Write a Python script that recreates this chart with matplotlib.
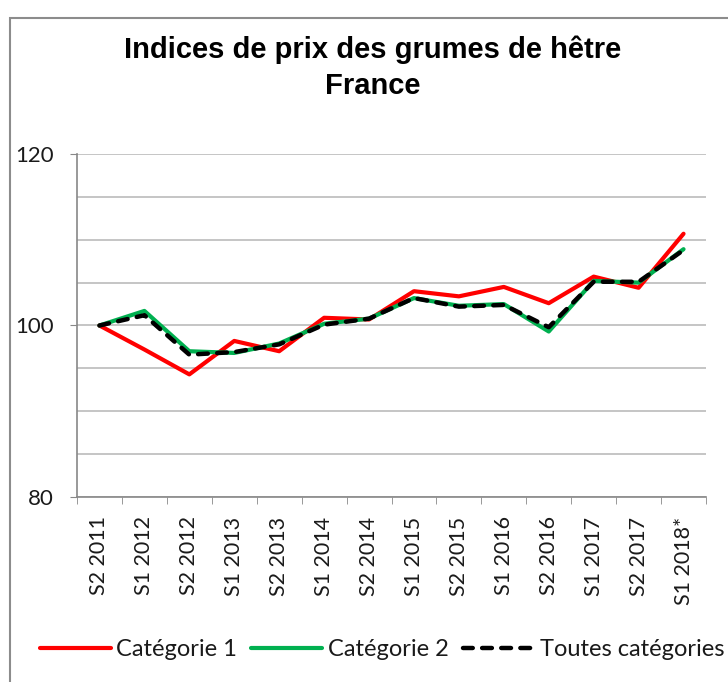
import matplotlib
matplotlib.use("Agg")
import matplotlib.pyplot as plt
from matplotlib.patches import Rectangle
from matplotlib.ticker import MultipleLocator, FixedLocator, FixedFormatter

categories = ["S2 2011", "S1 2012", "S2 2012", "S1 2013", "S2 2013", "S1 2014", "S2 2014",
              "S1 2015", "S2 2015", "S1 2016", "S2 2016", "S1 2017", "S2 2017", "S1 2018*"]
cat1 = [100.0, 97.2, 94.3, 98.2, 97.0, 100.9, 100.7, 104.0, 103.4, 104.5, 102.6, 105.7, 104.4, 110.7]
cat2 = [100.0, 101.7, 97.0, 96.8, 97.9, 100.2, 100.8, 103.2, 102.3, 102.5, 99.3, 105.2, 105.0, 108.9]
total = [100.0, 101.2, 96.6, 96.9, 97.8, 100.1, 100.8, 103.2, 102.2, 102.4, 99.8, 105.1, 105.1, 108.8]
series_names = ["Catégorie 1", "Catégorie 2", "Toutes catégories"]
title = "Indices de prix des grumes de hêtre\nFrance"

W, H = 728, 682
fig = plt.figure(figsize=(W / 100, H / 100), dpi=100)
ax = fig.add_axes([77 / W, 1 - 497 / H, (706 - 77) / W, (497 - 154) / H])

x = list(range(len(categories)))
ax.plot(x, cat1, color="#ff0000", lw=3.0, solid_capstyle="round", label=series_names[0], zorder=3)
ax.plot(x, cat2, color="#00b050", lw=3.0, solid_capstyle="round", label=series_names[1], zorder=4)
ax.plot(x, total, color="#000000", lw=3.2, dashes=(2.2, 2.1), dash_capstyle="round",
        label=series_names[2], zorder=5)

ax.set_xlim(-0.5, len(categories) - 0.5)
ax.set_ylim(80, 120)

ax.yaxis.set_major_locator(MultipleLocator(20))
ax.yaxis.set_minor_locator(MultipleLocator(5))
ax.grid(True, which="both", axis="y", color="#c0c0c0", lw=1.3, zorder=0)
ax.tick_params(axis="y", which="major", length=5, color="#888888", labelsize=16, pad=12)
ax.tick_params(axis="y", which="minor", length=0)

ax.xaxis.set_major_locator(FixedLocator(x))
ax.xaxis.set_major_formatter(FixedFormatter(categories))
ax.xaxis.set_minor_locator(FixedLocator([i - 0.5 for i in range(len(categories) + 1)]))
ax.tick_params(axis="x", which="major", length=0, labelsize=15.5, pad=14, labelrotation=90)
ax.tick_params(axis="x", which="minor", length=5, color="#888888")

for s in ["top", "right"]:
    ax.spines[s].set_visible(False)
for s in ["left", "bottom"]:
    ax.spines[s].set_color("#888888")
    ax.spines[s].set_linewidth(1.2)

for lab in ax.get_xticklabels() + ax.get_yticklabels():
    lab.set_family("Lato")
    lab.set_color("#1a1a1a")

fig.text(373 / W, 1 - 68 / H, title, ha="center", va="center", fontsize=21,
         fontweight="bold", family="Liberation Sans", linespacing=1.38)

leg = fig.legend(loc="center", bbox_to_anchor=(382 / W, 1 - 650 / H), ncol=3, frameon=False,
                 handlelength=3.0, handletextpad=0.25, columnspacing=0.6,
                 prop={"family": "Lato", "size": 17})
for t in leg.get_texts():
    t.set_color("#1a1a1a")

fig.patches.append(Rectangle((10 / W, -0.1), 1.2, (H - 18) / H + 0.1, transform=fig.transFigure,
                             fill=False, edgecolor="#8c8c8c", lw=1.5))

fig.savefig("out.png", dpi=100)
